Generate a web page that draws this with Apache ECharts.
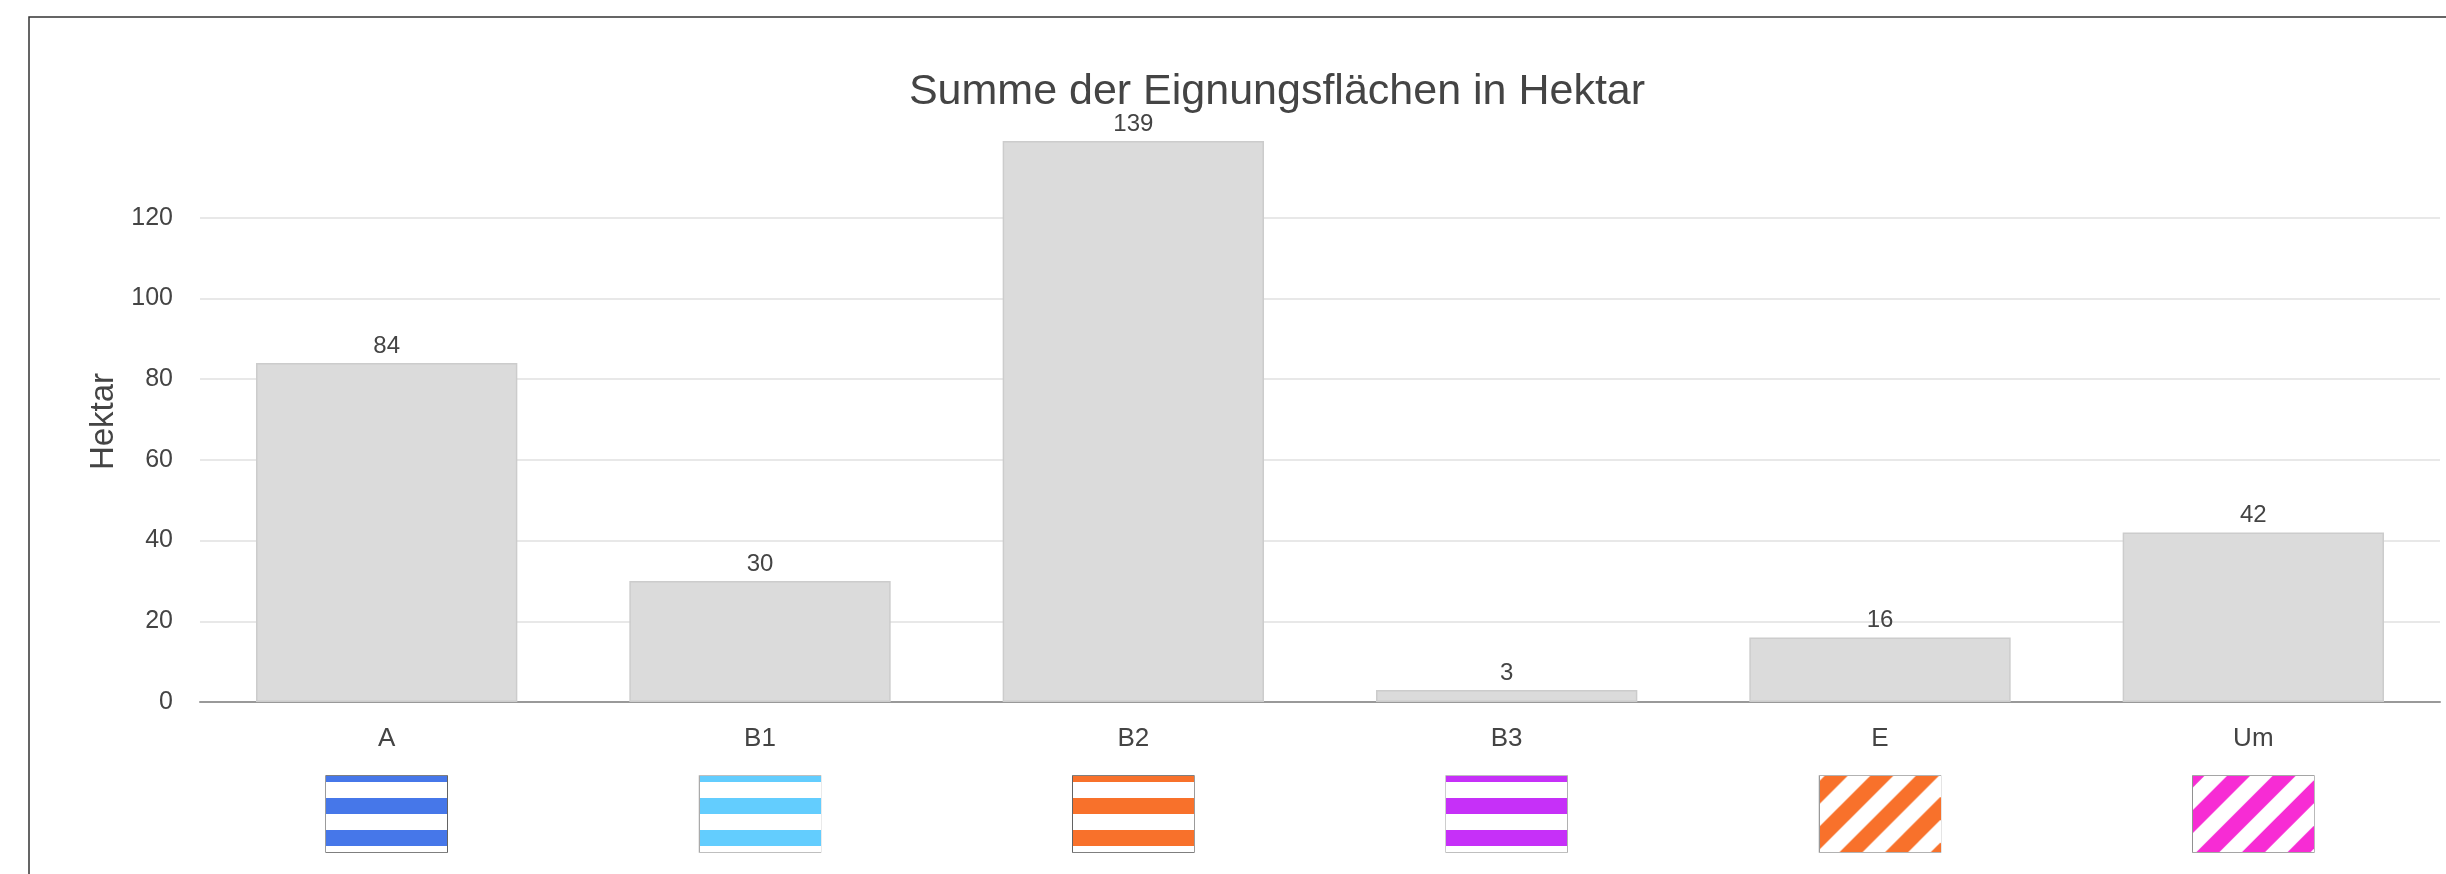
<!DOCTYPE html>
<html>
<head>
<meta charset="utf-8">
<title>Summe der Eignungsflächen in Hektar</title>
<script src="https://cdn.jsdelivr.net/npm/echarts@6/dist/echarts.min.js"></script>
<style>
  html, body { margin: 0; padding: 0; background: #fff; }
  #main { width: 2446px; height: 874px; }
</style>
</head>
<body>
<div id="main"></div>
<script>
var categories = ['A', 'B1', 'B2', 'B3', 'E', 'Um'];
var hektar = [84, 30, 139, 3, 16, 42];
var yTicks = [0, 20, 40, 60, 80, 100, 120];

// Musterfelder unter den Kategorien (nur Darstellung)
var swatchColor = ['#4677e9', '#63cdfe', '#f8712b', '#c630f8', '#f8712b', '#f72cd4'];
var swatchKind = ['h', 'h', 'h', 'h', 'd', 'd'];
var swatchPhase = [0, 0, 0, 0, 5, -11.6];
var swatchBorder = ['#555', '#aaa', '#555', '#aaa', '#999', '#888'];

var FONT = "'Liberation Sans', Arial, sans-serif";
var SW_W = 121, SW_H = 76;

function makeSwatch(color, kind, phase) {
    var c = document.createElement('canvas');
    c.width = SW_W;
    c.height = SW_H;
    var ctx = c.getContext('2d');
    ctx.fillStyle = '#fff';
    ctx.fillRect(0, 0, SW_W, SW_H);
    ctx.fillStyle = color;
    if (kind === 'h') {
        for (var y = -10; y < SW_H; y += 32) ctx.fillRect(0, y, SW_W, 16);
    } else {
        for (var u = phase - 45.6 * 2; u < SW_W + SW_H; u += 45.6) {
            ctx.beginPath();
            ctx.moveTo(u, 0);
            ctx.lineTo(u + 23, 0);
            ctx.lineTo(u + 23 - SW_H, SW_H);
            ctx.lineTo(u - SW_H, SW_H);
            ctx.closePath();
            ctx.fill();
        }
    }
    return c;
}

var rich = {
    name: { fontSize: 26, color: '#444', lineHeight: 37, align: 'center', fontFamily: FONT }
};
categories.forEach(function (cat, i) {
    rich['sw' + i] = {
        width: SW_W,
        height: SW_H,
        lineHeight: 114,
        align: 'center',
        backgroundColor: { image: makeSwatch(swatchColor[i], swatchKind[i], swatchPhase[i]) },
        borderColor: swatchBorder[i],
        borderWidth: 1.5
    };
});

var myChart = echarts.init(document.getElementById('main'));
var option = {
    backgroundColor: '#fff',
    animation: false,
    textStyle: { fontFamily: FONT },
    title: {
        text: 'Summe der Eignungsflächen in Hektar',
        left: 1272,
        top: 66,
        textAlign: 'center',
        textStyle: { fontSize: 43, fontWeight: 'normal', color: '#444', fontFamily: FONT }
    },
    graphic: [{
        type: 'rect',
        shape: { x: 29, y: 17, width: 3000, height: 2000 },
        style: { fill: 'none', stroke: '#333', lineWidth: 1.5 },
        silent: true
    }],
    grid: { left: 200, right: 6, top: 141, bottom: 172 },
    xAxis: {
        type: 'category',
        data: categories,
        axisLine: { lineStyle: { color: '#999', width: 2 } },
        axisTick: { alignWithLabel: true, length: 8, lineStyle: { color: '#999', width: 1.5 } },
        axisLabel: {
            margin: 18,
            formatter: function (v, idx) { return '{name|' + v + '}\n{sw' + idx + '|}'; },
            rich: rich
        }
    },
    yAxis: {
        type: 'value',
        min: yTicks[0],
        max: 'dataMax',
        interval: yTicks[1] - yTicks[0],
        name: 'Hektar',
        nameLocation: 'middle',
        nameGap: 71,
        nameTextStyle: { fontSize: 33, color: '#444', fontFamily: FONT },
        axisLine: { show: false },
        axisTick: { show: false },
        axisLabel: { fontSize: 25, color: '#444', margin: 27, showMaxLabel: false, fontFamily: FONT },
        splitLine: { showMaxLine: false, lineStyle: { color: '#e8e8e8', width: 2 } }
    },
    series: [{
        type: 'bar',
        data: hektar,
        barCategoryGap: '30%',
        itemStyle: { color: '#dbdbdb', borderColor: '#cccccc', borderWidth: 1.5 },
        label: { show: true, position: 'top', distance: 5, fontSize: 24, color: '#444', fontFamily: FONT }
    }]
};
myChart.setOption(option);
</script>
</body>
</html>
